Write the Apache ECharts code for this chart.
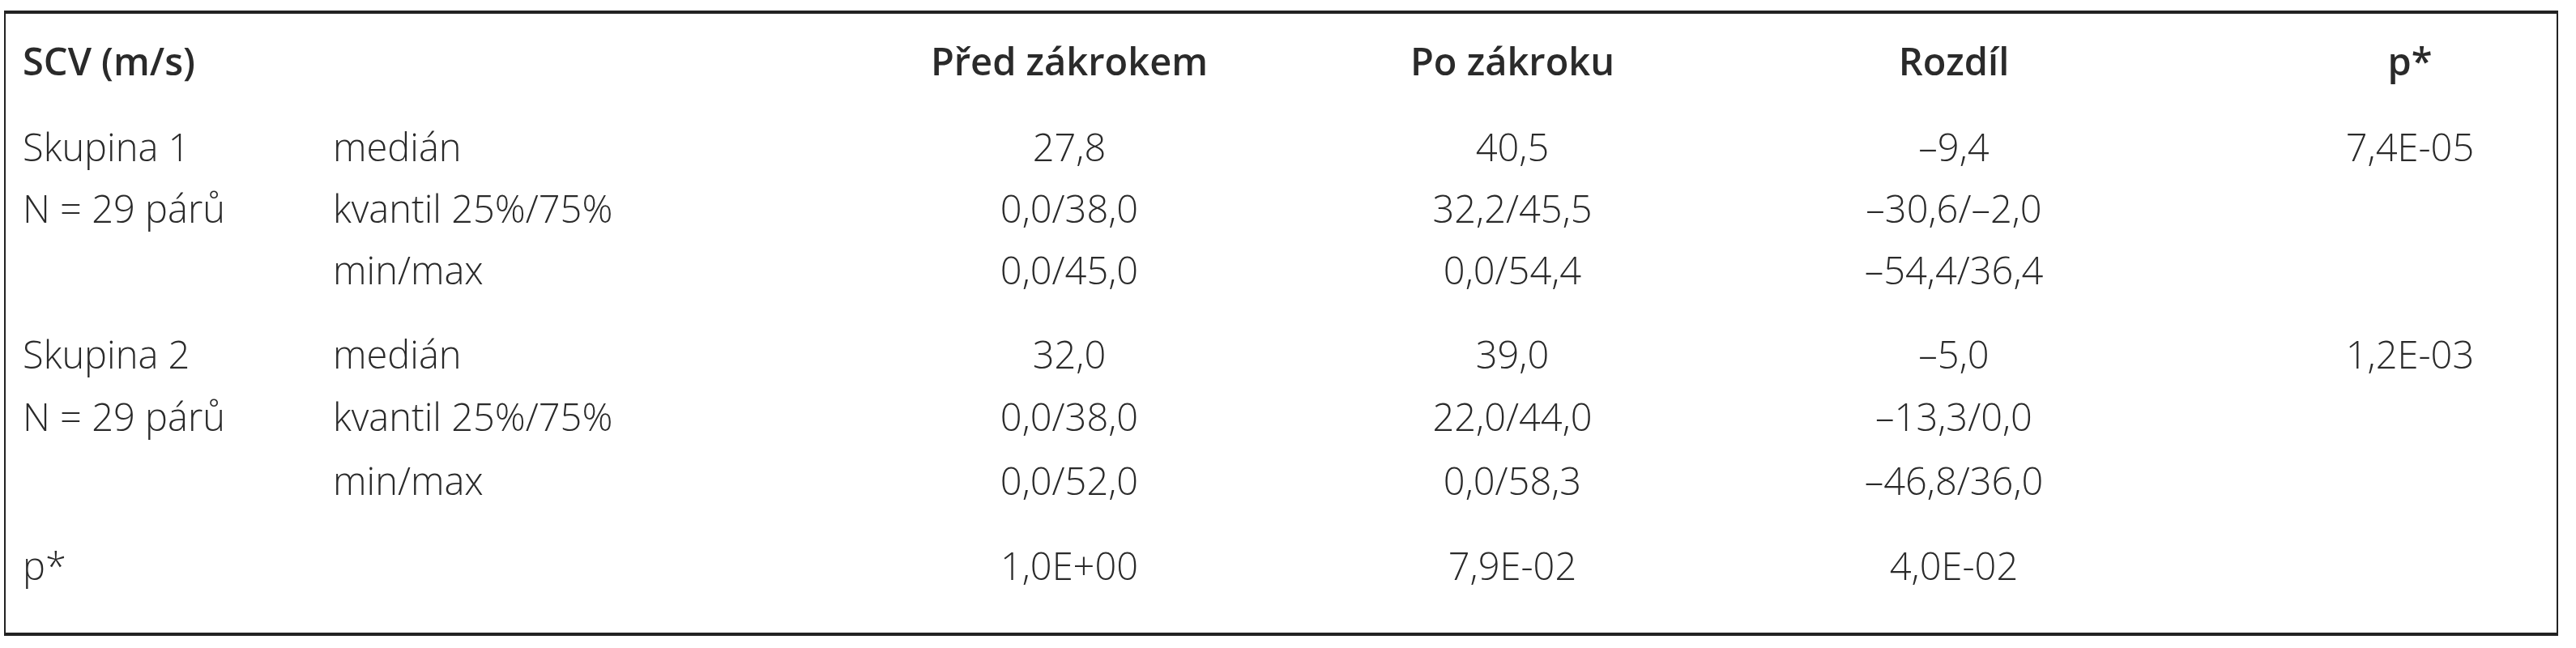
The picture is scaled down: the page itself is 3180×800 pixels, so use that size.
<!DOCTYPE html>
<html><head><meta charset="utf-8">
<script src="https://cdn.jsdelivr.net/npm/echarts@6/dist/echarts.min.js"></script>
<style>html,body{margin:0;padding:0;background:#fff}#c{width:3180px;height:800px}</style>
</head><body><div id="c"></div>
<script>
const headers = ['SCV (m/s)', '', 'Před zákrokem', 'Po zákroku', 'Rozdíl', 'p*'];
const groupLabels = ['Skupina 1', 'N = 29 párů', '', 'Skupina 2', 'N = 29 párů', '', 'p*'];
const statLabels = ['medián', 'kvantil 25%/75%', 'min/max', 'medián', 'kvantil 25%/75%', 'min/max', ''];
const predValues = ['27,8', '0,0/38,0', '0,0/45,0', '32,0', '0,0/38,0', '0,0/52,0', '1,0E+00'];
const poValues = ['40,5', '32,2/45,5', '0,0/54,4', '39,0', '22,0/44,0', '0,0/58,3', '7,9E-02'];
const diffValues = ['–9,4', '–30,6/–2,0', '–54,4/36,4', '–5,0', '–13,3/0,0', '–46,8/36,0', '4,0E-02'];
const pValues = ['7,4E-05', '', '', '1,2E-03', '', '', ''];

const rowY = [186, 262, 338, 442, 519, 598, 703];
const headerY = 80;
const colX = [28, 411, 1320, 1867, 2412, 2975];
const align = ['left', 'left', 'center', 'center', 'center', 'center'];
const font = '"Open Sans", "Noto Sans", sans-serif';
const els = [];
function txt(x, y, s, a, bold) {
  if (!s) return;
  els.push({type: 'text', x: x, y: y, style: {text: s, fill: '#2a2a2a', font: (bold ? '600 ' : '300 ') + '47px ' + font, textAlign: a, textVerticalAlign: 'middle'}});
}
headers.forEach((h, i) => txt(colX[i], headerY, h, align[i], true));
const cols = [groupLabels, statLabels, predValues, poValues, diffValues, pValues];
cols.forEach((col, ci) => col.forEach((v, ri) => txt(colX[ci], rowY[ri], v, align[ci], false)));
els.push({type: 'rect', shape: {x: 6, y: 15, width: 3151, height: 768}, style: {fill: 'none', stroke: '#222', lineWidth: 2}});
els.push({type: 'line', shape: {x1: 5, y1: 15, x2: 3158, y2: 15}, style: {stroke: '#222', lineWidth: 4}});
els.push({type: 'line', shape: {x1: 5, y1: 783, x2: 3158, y2: 783}, style: {stroke: '#222', lineWidth: 4}});
const chart = echarts.init(document.getElementById('c'));
chart.setOption({animation: false, graphic: {elements: els}});
</script></body></html>
